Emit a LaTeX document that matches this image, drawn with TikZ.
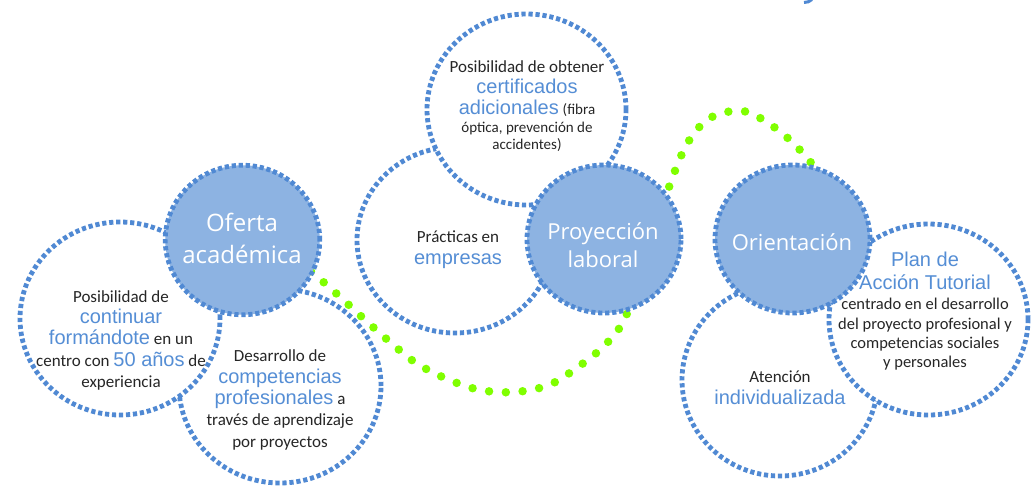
\documentclass[tikz,border=0pt]{standalone}
\usepackage{fontspec}
\setmainfont{Carlito}
\newfontfamily\wfont{Open Sans}
\newfontfamily\bfont{Liberation Sans}
\usetikzlibrary{shapes.geometric}
\definecolor{fillblue}{HTML}{8DB3E2}
\definecolor{dashblue}{HTML}{5089D3}
\definecolor{textblue}{HTML}{558ED5}
\definecolor{limegreen}{HTML}{80FF00}
\definecolor{darktext}{HTML}{262626}
\newcommand\hl[1]{{\bfont\fontsize{20}{20}\selectfont\color{textblue}#1}}
\newcommand\sm[1]{{\fontsize{15}{15}\selectfont #1}}
\tikzset{
  wcirc/.style={ellipse, draw=dashblue, fill=white, line width=4.8pt, dash pattern=on 4.2pt off 2.8pt, inner sep=0pt},
  fcirc/.style={wcirc, fill=fillblue},
  dtext/.style={align=center, inner sep=0pt, text=darktext, font={\fontsize{17}{21.3}\selectfont\lineskiplimit=-50pt}},
  wtext/.style={align=center, inner sep=0pt, text=white},
  greendots/.style={limegreen, line width=8.5pt, line cap=round, dash pattern=on 0pt off 16.8pt}
}
\begin{document}
\begin{tikzpicture}[x=1pt,y=-1pt]
\useasboundingbox (0,0) rectangle (1031,488);
% background dashed circles
\node[wcirc, minimum width=202pt, minimum height=194pt] (c3) at (280,386) {};
\node[wcirc, minimum width=200pt, minimum height=193pt] (c2) at (120,318.5) {};
\node[wcirc, minimum width=196pt, minimum height=186pt] (c5) at (455,240) {};
\node[wcirc, minimum width=199pt, minimum height=191pt] (c4) at (526.5,109.5) {};
\node[wcirc, minimum width=196pt, minimum height=192pt] (c9) at (780,380) {};
\node[wcirc, minimum width=199pt, minimum height=191pt] (c8) at (928.5,319.5) {};
% small fragment at top
\draw[dashblue, line width=3pt] (804,2.5) to[bend right=20] (812,-0.5);
% green dotted wave
\coordinate (gs) at (285,250);
\coordinate (ge) at (825,180);
\draw[greendots] plot[smooth, tension=0.55] coordinates {(gs) (313,273) (338,295) (363,318) (390,342) (416,363) (447,379) (480,390) (515,392) (549,385) (578,367) (605,345) (625,318) (648,254) (668,190) (687,144) (710,118) (743,111) (774,127) (800,150) (ge)};
% filled circles
\node[fcirc, minimum width=154.5pt, minimum height=149.5pt] (c1) at (242.5,240) {};
\node[fcirc, minimum width=154pt, minimum height=148pt] (c6) at (604,239) {};
\node[fcirc, minimum width=155pt, minimum height=148pt] (c7) at (792.5,239) {};
% texts
\node[wtext, font={\wfont\fontsize{24}{31.6}\selectfont}] (t1) at (242,238.4) {Oferta\\académica};
\node[wtext, font={\wfont\fontsize{22}{28}\selectfont}] (t6) at (603,245.5) {Proyección\\laboral};
\node[wtext, font={\wfont\fontsize{22}{28}\selectfont}, anchor=base] (t7) at (792,250) {Orientación};
\node[dtext] (t2) at (121,340.4) {Posibilidad de\\\hl{continuar}\\\hl{formándote} en un\\centro con \hl{50 años} de\\experiencia};
\node[dtext] (t3) at (280,400) {Desarrollo de\\\hl{competencias}\\\hl{profesionales} a\\través de aprendizaje\\por proyectos};
\node[dtext] (t4) at (527,106) {Posibilidad de obtener\\\hl{certificados}\\\hl{adicionales} \sm{(fibra}\\[-4pt]\sm{óptica, prevención de}\\[-4pt]\sm{accidentes)}};
\node[dtext] (t5) at (458,249.7) {Prácticas en\\[0.7pt]\hl{empresas}};
\node[dtext] (t9) at (780,387.7) {Atención\\[0.7pt]\hl{individualizada}};
\node[dtext, font={\fontsize{16.5}{19.3}\selectfont\lineskiplimit=-50pt}] (t8) at (925,311.5) {\hl{Plan de}\\[3.7pt]\hl{Acción Tutorial}\\[0.7pt]centrado en el desarrollo\\del proyecto profesional y\\competencias sociales\\y personales};
\end{tikzpicture}
\end{document}
